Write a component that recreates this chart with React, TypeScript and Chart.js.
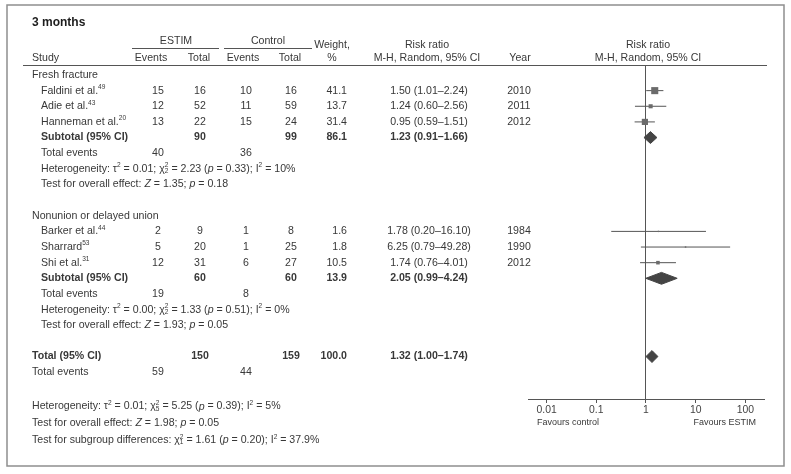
import React, { useEffect, useRef } from 'react';
import { Chart, registerables } from 'chart.js';

Chart.register(...registerables);

// ---------------- DATA ----------------
const chartTitle = '3 months';
const groupNames = ['Fresh fracture', 'Nonunion or delayed union'];
const studyNames = ['Faldini et al.', 'Adie et al.', 'Hanneman et al.', 'Barker et al.', 'Sharrard', 'Shi et al.'];
const studyRefs = ['49', '43', '20', '44', '53', '31'];
const studyGroup = [0, 0, 0, 1, 1, 1];
const estimEvents = [15, 12, 13, 2, 5, 12];
const estimTotal = [16, 52, 22, 9, 20, 31];
const controlEvents = [10, 11, 15, 1, 1, 6];
const controlTotal = [16, 59, 24, 8, 25, 27];
const studyWeight = [41.1, 13.7, 31.4, 1.6, 1.8, 10.5];
const studyRR = [1.5, 1.24, 0.95, 1.78, 6.25, 1.74];
const studyLo = [1.01, 0.6, 0.59, 0.2, 0.79, 0.76];
const studyHi = [2.24, 2.56, 1.51, 16.1, 49.28, 4.01];
const studyYear = [2010, 2011, 2012, 1984, 1990, 2012];

const subTotalEstim = [90, 60];
const subTotalControl = [99, 60];
const subWeight = [86.1, 13.9];
const subRR = [1.23, 2.05];
const subLo = [0.91, 0.99];
const subHi = [1.66, 4.24];
const subEventsEstim = [40, 19];
const subEventsControl = [36, 8];
const subHeterogeneity = [
  'Heterogeneity: τ^{2} = 0.01; χ^{2}_{2} = 2.23 (|p| = 0.33); I^{2} = 10%',
  'Heterogeneity: τ^{2} = 0.00; χ^{2}_{2} = 1.33 (|p| = 0.51); I^{2} = 0%',
];
const subOverallEffect = [
  'Test for overall effect: |Z| = 1.35; |p| = 0.18',
  'Test for overall effect: |Z| = 1.93; |p| = 0.05',
];

const totalEstim = 150;
const totalControl = 159;
const totalWeight = 100.0;
const totalRR = 1.32;
const totalLo = 1.0;
const totalHi = 1.74;
const totalEventsEstim = 59;
const totalEventsControl = 44;
const overallNotes = [
  'Heterogeneity: τ^{2} = 0.01; χ^{2}_{5} = 5.25 (|p| = 0.39); I^{2} = 5%',
  'Test for overall effect: |Z| = 1.98; |p| = 0.05',
  'Test for subgroup differences: χ^{2}_{1} = 1.61 (|p| = 0.20); I^{2} = 37.9%',
];

const tickValues = [0.01, 0.1, 1, 10, 100];
const tickLabels = ['0.01', '0.1', '1', '10', '100'];
const favoursLabels = ['Favours control', 'Favours ESTIM'];

// ---------------- LAYOUT (row indices) ----------------
const rowsLayout = (() => {
  let r = 0;
  const groupHeader: number[] = [];
  const studyRow: number[] = new Array(studyNames.length).fill(0);
  const subtotalRow: number[] = [];
  for (let g = 0; g < groupNames.length; g++) {
    groupHeader.push(r);
    r++;
    studyGroup.forEach((sg, i) => {
      if (sg === g) {
        studyRow[i] = r;
        r++;
      }
    });
    subtotalRow.push(r);
    r += 5;
  }
  return { groupHeader, studyRow, subtotalRow, totalRow: r, totalEventsRow: r + 1 };
})();

const FONT = '"Liberation Sans", Arial, Helvetica, sans-serif';
const TEXT = '#383838';
const LINE = '#555555';
const BODY = 10.6;
const Y_MIN = -0.575;
const Y_MAX = 20.716;
const DIAMOND_HALF = 0.38;

const fmtRR = (v: number, l: number, h: number) => `${v.toFixed(2)} (${l.toFixed(2)}–${h.toFixed(2)})`;

function font(size: number, bold = false, italic = false) {
  return `${italic ? 'italic ' : ''}${bold ? 'bold ' : ''}${size}px ${FONT}`;
}

function drawRich(ctx: CanvasRenderingContext2D, str: string, x: number, y: number, size: number, bold = false) {
  const parts = str.split(/(\^\{[^}]*\}|_\{[^}]*\}|\|[^|]*\|)/).filter((p) => p.length);
  let cx = x;
  let supStart: number | null = null;
  let supEnd = 0;
  ctx.textAlign = 'left';
  ctx.textBaseline = 'middle';
  for (const p of parts) {
    if (p.startsWith('^{')) {
      const t = p.slice(2, -1);
      ctx.font = font(size * 0.62, bold);
      supStart = cx;
      ctx.fillText(t, cx, y - size * 0.33);
      cx += ctx.measureText(t).width;
      supEnd = cx;
      continue;
    }
    if (p.startsWith('_{')) {
      const t = p.slice(2, -1);
      ctx.font = font(size * 0.62, bold);
      const sx = supStart !== null ? supStart : cx;
      ctx.fillText(t, sx, y + size * 0.22);
      cx = Math.max(supStart !== null ? supEnd : cx, sx + ctx.measureText(t).width);
      supStart = null;
      continue;
    }
    supStart = null;
    if (p.startsWith('|')) {
      const t = p.slice(1, -1);
      ctx.font = font(size, bold, true);
      ctx.fillText(t, cx, y);
      cx += ctx.measureText(t).width;
      continue;
    }
    ctx.font = font(size, bold);
    ctx.fillText(p, cx, y);
    cx += ctx.measureText(p).width;
  }
}

function txt(
  ctx: CanvasRenderingContext2D,
  s: string,
  x: number,
  y: number,
  align: CanvasTextAlign,
  size = BODY,
  bold = false,
  color = TEXT
) {
  ctx.font = font(size, bold);
  ctx.fillStyle = color;
  ctx.textAlign = align;
  ctx.textBaseline = 'middle';
  ctx.fillText(s, x, y);
}

const tablePlugin = {
  id: 'forestTable',
  afterDraw(chart: any) {
    const ctx: CanvasRenderingContext2D = chart.ctx;
    const ys = chart.scales.y;
    const py = (i: number) => ys.getPixelForValue(i);
    const L = rowsLayout;
    ctx.save();

    // frame
    ctx.strokeStyle = '#8e8e8e';
    ctx.lineWidth = 1.5;
    ctx.strokeRect(7, 5, 777, 461);

    // header rules
    ctx.strokeStyle = LINE;
    ctx.lineWidth = 1;
    ctx.beginPath();
    ctx.moveTo(23, 65.5);
    ctx.lineTo(767, 65.5);
    ctx.moveTo(132, 48.5);
    ctx.lineTo(219, 48.5);
    ctx.moveTo(224, 48.5);
    ctx.lineTo(312, 48.5);
    ctx.stroke();

    // title & headers
    txt(ctx, chartTitle, 32, 23, 'left', 12, true, '#1c1c1c');
    txt(ctx, 'ESTIM', 176, 41, 'center');
    txt(ctx, 'Control', 268, 41, 'center');
    txt(ctx, 'Weight,', 332, 45, 'center');
    txt(ctx, 'Risk ratio', 427, 45, 'center');
    txt(ctx, 'Risk ratio', 648, 45, 'center');
    txt(ctx, 'Study', 32, 58, 'left');
    txt(ctx, 'Events', 151, 58, 'center');
    txt(ctx, 'Total', 199, 58, 'center');
    txt(ctx, 'Events', 243, 58, 'center');
    txt(ctx, 'Total', 290, 58, 'center');
    txt(ctx, '%', 332, 58, 'center');
    txt(ctx, 'M-H, Random, 95% CI', 427, 58, 'center');
    txt(ctx, 'Year', 520, 58, 'center');
    txt(ctx, 'M-H, Random, 95% CI', 648, 58, 'center');

    // groups
    groupNames.forEach((g, gi) => {
      txt(ctx, g, 32, py(L.groupHeader[gi]), 'left');
      const sr = L.subtotalRow[gi];
      txt(ctx, 'Subtotal (95% CI)', 41, py(sr), 'left', BODY, true);
      txt(ctx, String(subTotalEstim[gi]), 200, py(sr), 'center', BODY, true);
      txt(ctx, String(subTotalControl[gi]), 291, py(sr), 'center', BODY, true);
      txt(ctx, subWeight[gi].toFixed(1), 347, py(sr), 'right', BODY, true);
      txt(ctx, fmtRR(subRR[gi], subLo[gi], subHi[gi]), 429, py(sr), 'center', BODY, true);
      txt(ctx, 'Total events', 41, py(sr + 1), 'left');
      txt(ctx, String(subEventsEstim[gi]), 158, py(sr + 1), 'center');
      txt(ctx, String(subEventsControl[gi]), 246, py(sr + 1), 'center');
      ctx.fillStyle = TEXT;
      drawRich(ctx, subHeterogeneity[gi], 41, py(sr + 2), BODY);
      drawRich(ctx, subOverallEffect[gi], 41, py(sr + 3), BODY);
    });

    // studies
    studyNames.forEach((n, i) => {
      const y = py(L.studyRow[i]);
      ctx.fillStyle = TEXT;
      drawRich(ctx, `${n}^{${studyRefs[i]}}`, 41, y, BODY);
      txt(ctx, String(estimEvents[i]), 158, y, 'center');
      txt(ctx, String(estimTotal[i]), 200, y, 'center');
      txt(ctx, String(controlEvents[i]), 246, y, 'center');
      txt(ctx, String(controlTotal[i]), 291, y, 'center');
      txt(ctx, studyWeight[i].toFixed(1), 347, y, 'right');
      txt(ctx, fmtRR(studyRR[i], studyLo[i], studyHi[i]), 429, y, 'center');
      txt(ctx, String(studyYear[i]), 519, y, 'center');
    });

    // overall
    const tr = L.totalRow;
    txt(ctx, 'Total (95% CI)', 32, py(tr), 'left', BODY, true);
    txt(ctx, String(totalEstim), 200, py(tr), 'center', BODY, true);
    txt(ctx, String(totalControl), 291, py(tr), 'center', BODY, true);
    txt(ctx, totalWeight.toFixed(1), 347, py(tr), 'right', BODY, true);
    txt(ctx, fmtRR(totalRR, totalLo, totalHi), 429, py(tr), 'center', BODY, true);
    txt(ctx, 'Total events', 32, py(L.totalEventsRow), 'left');
    txt(ctx, String(totalEventsEstim), 158, py(L.totalEventsRow), 'center');
    txt(ctx, String(totalEventsControl), 246, py(L.totalEventsRow), 'center');

    ctx.fillStyle = TEXT;
    overallNotes.forEach((s, k) => {
      drawRich(ctx, s, 32, py(L.totalEventsRow + 2.2 + k * 1.08), BODY);
    });

    // favours labels
    const ca = chart.chartArea;
    txt(ctx, favoursLabels[0], ca.left + 9, 423, 'left', 9);
    txt(ctx, favoursLabels[1], ca.right - 8, 423, 'right', 9);

    ctx.restore();
  },
};

export default function App() {
  const ref = useRef<HTMLCanvasElement | null>(null);

  useEffect(() => {
    document.body.style.margin = '0';
    const canvas = ref.current;
    if (!canvas) return;
    const L = rowsLayout;

    const ciSets = studyNames.map((_, i) => ({
      type: 'line' as const,
      data: [
        { x: studyLo[i], y: L.studyRow[i] },
        { x: studyHi[i], y: L.studyRow[i] },
      ],
      borderColor: LINE,
      borderWidth: 1,
      pointRadius: 0,
      fill: false,
      order: 2,
    }));

    const squares = {
      type: 'line' as const,
      data: studyNames.map((_, i) => ({ x: studyRR[i], y: L.studyRow[i] })),
      showLine: false,
      pointStyle: 'rect' as const,
      pointRadius: studyWeight.map((w) => 0.78 * Math.sqrt(w)),
      pointBackgroundColor: '#6b6b6b',
      pointBorderWidth: 0,
      order: 0,
    };

    const diamondOf = (v: number, l: number, h: number, r: number) => ({
      type: 'line' as const,
      data: [
        { x: l, y: r },
        { x: v, y: r - DIAMOND_HALF },
        { x: h, y: r },
        { x: v, y: r + DIAMOND_HALF },
        { x: l, y: r },
      ],
      borderColor: '#444',
      backgroundColor: '#444',
      borderWidth: 1,
      pointRadius: 0,
      fill: 'shape',
      tension: 0,
      order: 0,
    });

    const diamonds = [
      ...groupNames.map((_, g) => diamondOf(subRR[g], subLo[g], subHi[g], L.subtotalRow[g])),
      diamondOf(totalRR, totalLo, totalHi, L.totalRow),
    ];

    const chart = new Chart(canvas, {
      type: 'line',
      data: { datasets: [...ciSets, squares, ...diamonds] as any },
      options: {
        animation: false,
        responsive: false,
        events: [],
        layout: { padding: { left: 528, right: 27, top: 66, bottom: 45 } },
        plugins: { legend: { display: false }, tooltip: { enabled: false } },
        scales: {
          x: {
            type: 'logarithmic',
            min: 0.00423,
            max: 236.6,
            afterBuildTicks: (axis: any) => {
              axis.ticks = tickValues.map((value) => ({ value }));
            },
            afterFit: (scale: any) => {
              scale.height = 30;
            },
            ticks: {
              autoSkip: false,
              maxRotation: 0,
              padding: 1,
              color: '#444',
              font: { family: FONT, size: 10.4 },
              callback: (value: any) => {
                const k = tickValues.indexOf(Number(value));
                return k >= 0 ? tickLabels[k] : '';
              },
            },
            grid: {
              drawOnChartArea: true,
              drawTicks: true,
              tickLength: 4,
              tickColor: LINE,
              lineWidth: 1,
              color: (c: any) => (c.tick && c.tick.value === 1 ? LINE : 'rgba(0,0,0,0)'),
            },
            border: { display: true, color: LINE, width: 1 },
          },
          y: {
            type: 'linear',
            display: false,
            reverse: true,
            min: Y_MIN,
            max: Y_MAX,
          },
        },
      },
      plugins: [tablePlugin],
    } as any);

    return () => chart.destroy();
  }, []);

  return <canvas ref={ref} width={791} height={474} style={{ display: 'block', width: 791, height: 474 }} />;
}
